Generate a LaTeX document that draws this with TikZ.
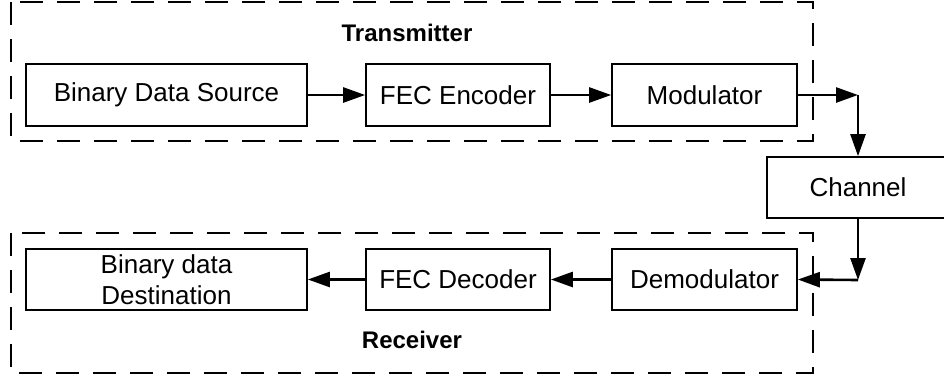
\documentclass[tikz,border=0pt]{standalone}
\usepackage{fontspec}
\setmainfont{Liberation Sans}
\usetikzlibrary{arrows.meta}
\begin{document}
\begin{tikzpicture}[x=1pt,y=-1pt,
  blk/.style={draw,line width=1.7pt,minimum height=62pt,inner sep=0pt,font=\fontsize{26}{31}\selectfont,align=center},
  grp/.style={draw,line width=2.8pt,dash pattern=on 23pt off 14pt},
  conn/.style={line width=2.6pt,-{Triangle[length=22pt,width=15pt]}},
  lbl/.style={font=\fontsize{24}{29}\selectfont\bfseries}]
\useasboundingbox (0,0) rectangle (944,381);
\clip (0,0) rectangle (944,381);
% groups
\draw[grp] (11,2) rectangle (813,141);
\draw[grp] (11,233) rectangle (813,373);
\node[lbl] (tx) at (407,33) {Transmitter};
\node[lbl] (rx) at (412,340) {Receiver};
% top row
\node[blk,minimum width=281pt] (src) at (166.5,95) {Binary Data Source};
\node[blk,minimum width=184pt] (enc) at (458,95) {FEC Encoder};
\node[blk,minimum width=185pt] (mod) at (704.5,95) {Modulator};
% channel
\node[blk,minimum width=182pt,minimum height=61pt] (ch) at (858,187.5) {Channel};
% bottom row
\node[blk,minimum width=281pt,minimum height=61pt] (dst) at (166.5,279.5) {Binary data\\Destination};
\node[blk,minimum width=184pt,minimum height=61pt] (dec) at (458,279.5) {FEC Decoder};
\node[blk,minimum width=185pt,minimum height=61pt] (dem) at (704.5,279.5) {Demodulator};
\coordinate (c1) at (858,95);
\coordinate (c2) at (858,280);
% connectors
\draw[conn] (src.east) -- (enc.west);
\draw[conn] (enc.east) -- (mod.west);
\draw[conn] (mod.east) -- (c1);
\draw[conn] (c1) -- (ch.north);
\draw[conn] (ch.south) -- (c2);
\draw[conn] (c2) -- (dem.east);
\draw[conn] (dem.west) -- (dec.east);
\draw[conn] (dec.west) -- (dst.east);
\end{tikzpicture}
\end{document}
